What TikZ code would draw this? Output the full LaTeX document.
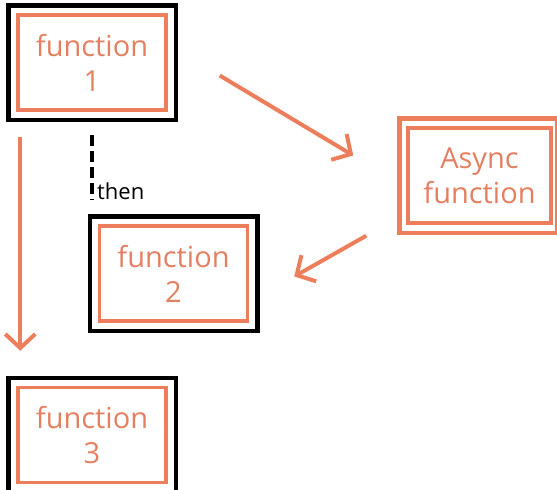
\documentclass[tikz,border=0pt]{standalone}
\usepackage{fontspec}
\setmainfont{Open Sans}
\usetikzlibrary{arrows.meta}
\definecolor{fnorange}{RGB}{236,126,92}
\definecolor{fntext}{RGB}{228,128,98}
\begin{document}
\begin{tikzpicture}[x=1pt,y=-1pt,
    fn/.style={draw=fnorange,line width=3.5pt,text=fntext,align=center,
      minimum width=148pt,minimum height=95pt,inner sep=0pt,
      font=\fontsize{29}{35}\selectfont},
    frame/.style={draw=black,line width=4.5pt},
    link/.style={draw=fnorange,line width=4pt,
      -{Straight Barb[length=14pt,width=30pt,line width=4pt]}},
    thenline/.style={draw=black,line width=4pt,dash pattern=on 11pt off 5pt}]
  \useasboundingbox (0,0) rectangle (557,490);
  \node[fn] (f1) at (92,62.5) {function\\1};
  \node[fn] (f2) at (173.5,273.5) {function\\2};
  \node[fn] (f3) at (92,435) {function\\3};
  \node[fn,minimum width=143pt,minimum height=95pt] (async) at (479.5,175.5) {Async\\function};
  % black frames round the plain functions
  \foreach \n in {f1,f2,f3}
    \draw[frame] ([shift={(-8,-8)}]\n.north west) rectangle ([shift={(8,8)}]\n.south east);
  \draw[draw=fnorange,line width=4.5pt] ([shift={(-7,-8)}]async.north west) rectangle ([shift={(4,8)}]async.south east);
  % calls
  \draw[link] ([shift={(52,13)}]f1.east) -- ([shift={(-53,-20)}]async.west);
  \draw[link] ([shift={(-40,11)}]async.south west) -- ([shift={(45,3)}]f2.east);
  \draw[link] ([shift={(4,25)}]f1.south west) -- ([shift={(4,-35)}]f3.north west);
  % then
  \node[anchor=base west,inner sep=0pt,font=\fontsize{22}{26}\selectfont] (then) at (97,199) {then};
  \draw[thenline] ([shift={(0,23)}]f1.south) -- ([shift={(-5,0)}]then.base west);
\end{tikzpicture}
\end{document}
